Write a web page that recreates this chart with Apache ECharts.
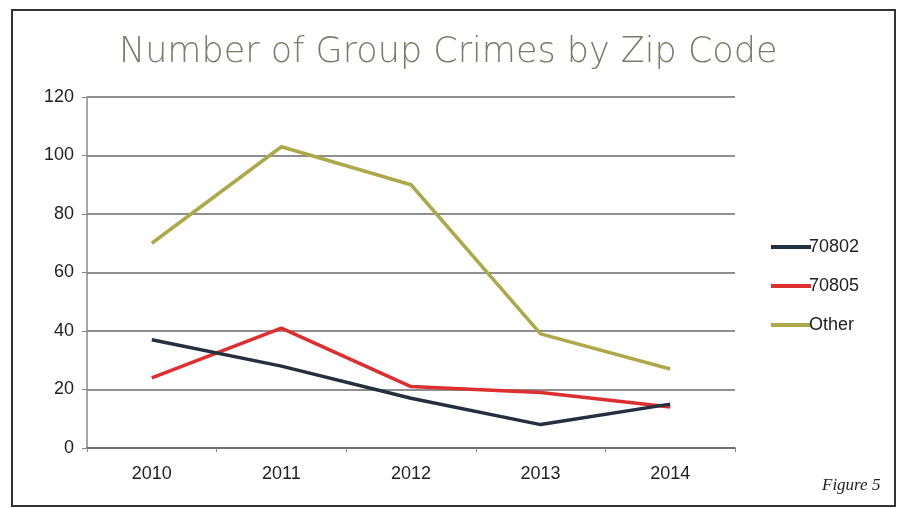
<!DOCTYPE html>
<html>
<head>
<meta charset="utf-8">
<script src="https://cdn.jsdelivr.net/npm/echarts@6/dist/echarts.min.js"></script>
<style>
  html, body { margin: 0; padding: 0; background: #fff; }
  #chart { width: 905px; height: 508px; }
</style>
</head>
<body>
<div id="chart"></div>
<script>
// Yearly group-crime counts per zip code
const years = ['2010', '2011', '2012', '2013', '2014'];
const zip70802 = [37, 28, 17, 8, 15];
const zip70805 = [24, 41, 21, 19, 14];
const otherZips = [70, 103, 90, 39, 27];
const seriesNames = ['70802', '70805', 'Other'];
const seriesColors = ['#25303f', '#dc2f2f', '#ada84a'];

const chart = echarts.init(document.getElementById('chart'));

const lineSeries = [zip70802, zip70805, otherZips].map((values, i) => ({
  name: seriesNames[i],
  type: 'line',
  data: values,
  symbol: 'none',
  smooth: false,
  lineStyle: { width: 3.5, color: seriesColors[i] },
  itemStyle: { color: seriesColors[i] },
  z: 5 - i
}));

chart.setOption({
  backgroundColor: '#ffffff',
  animation: false,
  title: {
    text: 'Number of Group Crimes by Zip Code',
    left: 114,
    top: 30,
    textStyle: {
      fontFamily: 'DejaVu Sans',
      fontWeight: 200,
      fontSize: 35,
      color: '#7b7b6c'
    }
  },
  graphic: [{
    type: 'rect',
    shape: { x: 12, y: 10, width: 883, height: 496 },
    style: { fill: 'none', stroke: '#333', lineWidth: 2 },
    silent: true,
    z: -1
  }, {
    type: 'text',
    left: 822,
    top: 477,
    style: {
      text: 'Figure 5',
      font: 'italic 17px "Liberation Serif", serif',
      fill: '#222'
    }
  }],
  legend: {
    orient: 'vertical',
    left: 766,
    top: 233,
    itemGap: 21,
    itemWidth: 40,
    itemHeight: 4,
    icon: 'rect',
    textStyle: { fontFamily: 'Liberation Sans', fontSize: 18, color: '#222', padding: [0, 0, 0, -7] },
    data: seriesNames
  },
  grid: { left: 87, right: 170, top: 97, bottom: 60 },
  xAxis: {
    type: 'category',
    data: years,
    boundaryGap: true,
    axisLine: { lineStyle: { color: '#666', width: 1.5 } },
    axisTick: { show: true, length: 4, lineStyle: { color: '#888' } },
    axisLabel: { fontFamily: 'Liberation Sans', fontSize: 18, color: '#222', margin: 17 }
  },
  yAxis: {
    type: 'value',
    min: 0,
    max: 120,
    interval: 20,
    axisLine: { show: true, lineStyle: { color: '#888', width: 1.5 } },
    axisTick: { show: true, length: 5, lineStyle: { color: '#888' } },
    axisLabel: { fontFamily: 'Liberation Sans', fontSize: 18, color: '#222', margin: 13 },
    splitLine: { lineStyle: { color: '#6a6a6a', width: 1.5 } }
  },
  series: lineSeries
});
</script>
</body>
</html>
